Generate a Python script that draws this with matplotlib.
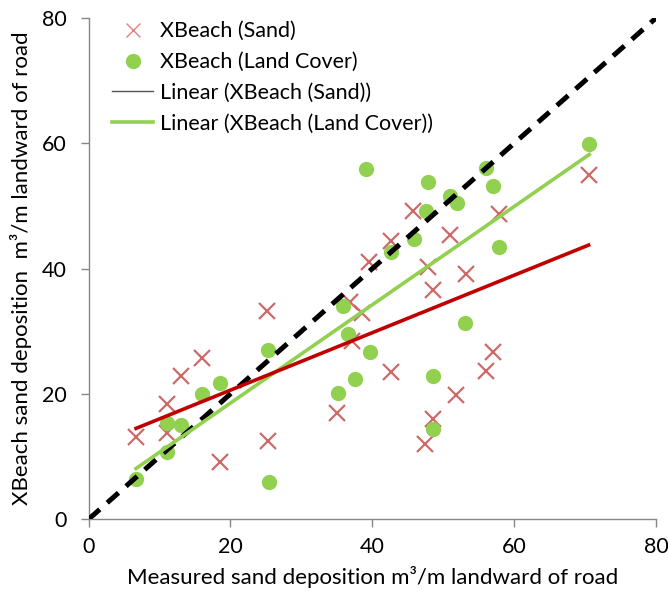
import matplotlib.pyplot as plt
import numpy as np
from matplotlib.lines import Line2D

plt.rcParams['font.family'] = ['Lato', 'DejaVu Sans']

# XBeach (Sand) - crosses
sand_x = [6.7, 11.1, 11.1, 13.0, 16.0, 18.5, 25.2, 25.3, 35.1, 36.9, 37.2, 38.6, 39.5,
          42.6, 42.7, 45.7, 47.5, 47.8, 48.6, 48.6, 51.0, 51.8, 53.2, 56.1, 57.0, 57.9, 70.5]
sand_y = [13.2, 18.4, 13.7, 22.9, 25.8, 9.1, 33.3, 12.5, 16.9, 34.7, 28.4, 33.0, 41.1,
          23.5, 44.4, 49.2, 12.0, 40.3, 36.6, 16.0, 45.4, 19.8, 39.2, 23.6, 26.7, 48.8, 54.9]

# XBeach (Land Cover) - circles
land_x = [6.7, 11.1, 11.1, 13.0, 16.0, 18.6, 25.3, 25.4, 35.2, 35.9, 36.6, 37.5, 39.7,
          39.1, 42.7, 45.9, 47.6, 47.9, 48.6, 48.6, 51.0, 51.9, 53.1, 56.1, 57.0, 57.9, 70.6]
land_y = [6.5, 10.8, 15.3, 15.05, 20.0, 21.8, 27.0, 5.9, 20.2, 34.0, 29.5, 22.4, 26.75,
          55.9, 42.7, 44.7, 49.2, 53.9, 22.9, 14.4, 51.6, 50.5, 31.4, 56.0, 53.25, 43.4, 59.85]

one_to_one = [0, 80]

fig = plt.figure(figsize=(6.68, 5.96), dpi=100)
ax = fig.add_axes([0.1325, 0.1287, 0.8495, 0.8411])

ax.plot(sand_x, sand_y, 'x', color='#CD6A68', ms=11.5, mew=1.6, zorder=2)
ax.plot(land_x, land_y, 'o', color='#92D050', ms=11, mew=0, zorder=3)

ax.plot(one_to_one, one_to_one, color='black', lw=3.6, dashes=(3.0, 2.0), zorder=4)

xs = np.array([min(land_x), max(land_x)])
p_land = np.polyfit(land_x, land_y, 1)
ax.plot(xs, np.polyval(p_land, xs), color='#92D050', lw=2.6, zorder=5)
xs = np.array([min(sand_x), max(sand_x)])
p_sand = np.polyfit(sand_x, sand_y, 1)
ax.plot(xs, np.polyval(p_sand, xs), color='#C00000', lw=2.6, zorder=6)

ax.set_xlim(0, 80)
ax.set_ylim(0, 80)
ax.set_xticks([0, 20, 40, 60, 80])
ax.set_yticks([0, 20, 40, 60, 80])
for s in ['top', 'right']:
    ax.spines[s].set_visible(False)
for s in ['left', 'bottom']:
    ax.spines[s].set_color('#868686')
    ax.spines[s].set_linewidth(1.0)
ax.tick_params(direction='out', length=5.5, width=1.0, color='#868686',
               labelsize=15.5, pad=7)
ax.tick_params(axis='y', pad=10)
ax.set_xlabel('Measured sand deposition m³/m landward of road', fontsize=16, labelpad=7)
ax.set_ylabel('XBeach sand deposition  m³/m landward of road', fontsize=16, labelpad=7)

handles = [
    Line2D([], [], ls='none', marker='x', color='#E08080', ms=10, mew=1.0),
    Line2D([], [], ls='none', marker='o', color='#92D050', ms=11, mew=0),
    Line2D([], [], color='#555555', lw=1.0),
    Line2D([], [], color='#92D050', lw=2.6),
]
labels = ['XBeach (Sand)', 'XBeach (Land Cover)', 'Linear (XBeach (Sand))',
          'Linear (XBeach (Land Cover))']
ax.legend(handles, labels, loc='upper left', bbox_to_anchor=(0.008, 1.032), frameon=False,
          fontsize=15.5, handlelength=1.9, handletextpad=0.3, labelspacing=0.5)

fig.savefig('out.png', dpi=100)
